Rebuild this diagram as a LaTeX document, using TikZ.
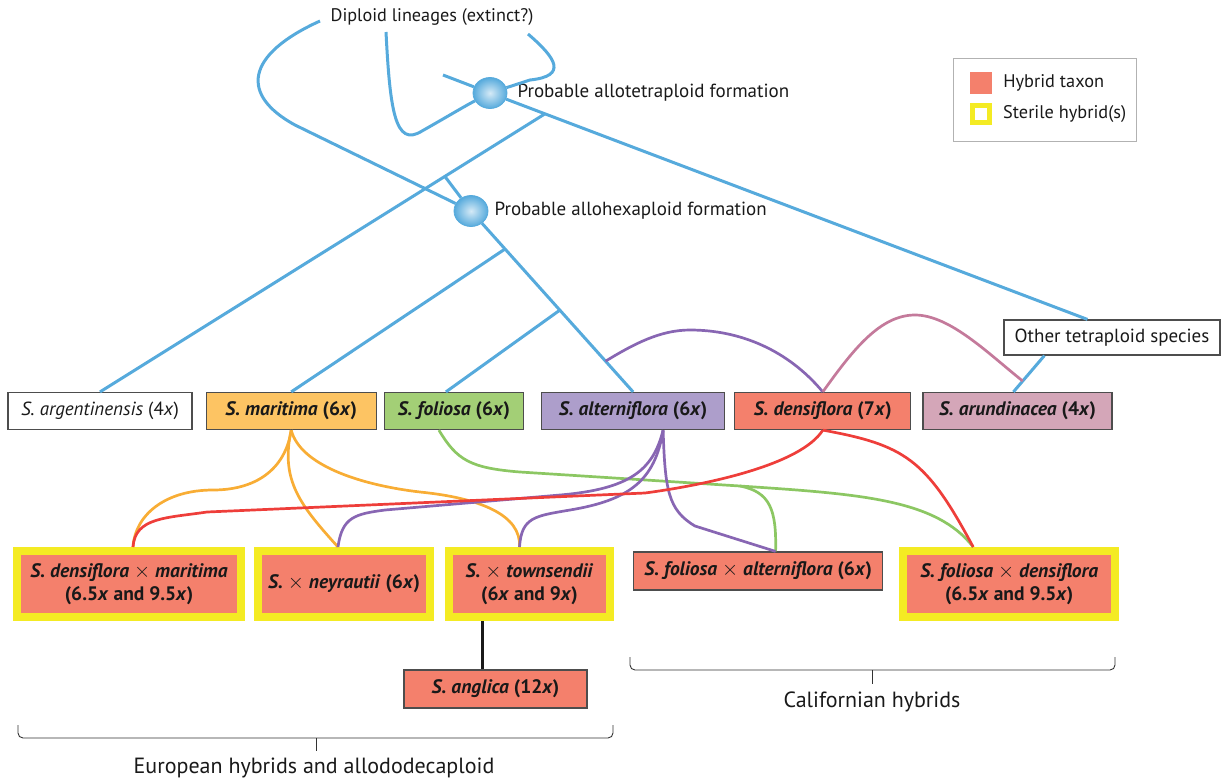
\documentclass[tikz,border=0pt]{standalone}
\usepackage{fontspec}
\setmainfont{PT Sans}
\usetikzlibrary{positioning,calc,shapes.geometric}
\definecolor{treeblue}{RGB}{86,170,220}
\definecolor{hybridsalmon}{RGB}{244,128,108}
\definecolor{sterileyellow}{RGB}{244,235,35}
\definecolor{maritimaorange}{RGB}{253,196,99}
\definecolor{foliosagreen}{RGB}{163,207,118}
\definecolor{alterpurple}{RGB}{173,158,203}
\definecolor{arundmauve}{RGB}{212,166,184}
\definecolor{orangeline}{RGB}{248,173,53}
\definecolor{redline}{RGB}{238,62,58}
\definecolor{greenline}{RGB}{140,199,99}
\definecolor{purpleline}{RGB}{136,102,179}
\definecolor{pinkline}{RGB}{196,122,155}
\definecolor{boxborder}{RGB}{77,77,77}
\newcommand{\taxon}[1]{\textit{#1}}
\newcommand{\crossx}{$\times$}
\tikzstyle{taxonbox} = [rectangle, draw=boxborder, line width=1.2pt, fill=white,
    minimum height=37pt, inner sep=0pt, text=black!90, align=center,
    font=\fontsize{19.5}{23}\selectfont\bfseries]
\tikzstyle{sterile} = [rectangle, draw=sterileyellow, line width=8pt, fill=hybridsalmon,
    minimum height=66pt, inner sep=0pt, text=black!90, align=center,
    font=\fontsize{19.5}{23}\selectfont\bfseries]
\tikzstyle{formation} = [ellipse, minimum width=34pt, minimum height=31pt, inner sep=0pt,
    draw=treeblue, line width=0.8pt, inner color=treeblue!25!white, outer color=treeblue]
\tikzstyle{plaintext} = [inner sep=0pt, text=black!90, font=\fontsize{19}{22}\selectfont]
\tikzstyle{lineage} = [draw=treeblue, line width=3pt]
\tikzstyle{line} = [draw, line width=2.7pt]
\tikzstyle{bracket} = [draw=black!80, line width=0.9pt, rounded corners=5pt]

\begin{document}
\begin{tikzpicture}[x=1pt, y=-1pt]
  \useasboundingbox (0,0) rectangle (1225,780);
  % parent species
  \node [taxonbox, minimum width=184pt, font=\fontsize{19}{22}\selectfont] (argent) at (100,411) {\taxon{S. argentinensis} (4\taxon{x})};
  \node [taxonbox, fill=maritimaorange, minimum width=170pt, right=13pt of argent] (maritima) {\taxon{S. maritima} (6\taxon{x})};
  \node [taxonbox, fill=foliosagreen, minimum width=139pt, right=7pt of maritima] (foliosa) {\taxon{S. foliosa} (6\taxon{x})};
  \node [taxonbox, fill=alterpurple, minimum width=183pt, right=17pt of foliosa] (altern) {\taxon{S. alterniflora} (6\taxon{x})};
  \node [taxonbox, fill=hybridsalmon, minimum width=176pt, right=9pt of altern] (densi) {\taxon{S. densiflora} (7\taxon{x})};
  \node [taxonbox, fill=arundmauve, minimum width=189pt, right=11pt of densi] (arund) {\taxon{S. arundinacea} (4\taxon{x})};
  \node [taxonbox, minimum width=216pt, minimum height=35pt, font=\fontsize{19}{22}\selectfont] (other) at (1112,337.5) {Other tetraploid species};
  % hybrids
  \node [sterile, minimum width=224pt] (dxm) at (129,584) {\taxon{S. densiflora} \crossx{} \taxon{maritima}\\(6.5\taxon{x} and 9.5\taxon{x})};
  \node [sterile, minimum width=172pt, right=9pt of dxm] (neyr) {\taxon{S.} \crossx{} \taxon{neyrautii} (6\taxon{x})};
  \node [sterile, minimum width=161pt, right=11pt of neyr] (towns) {\taxon{S.} \crossx{} \taxon{townsendii}\\(6\taxon{x} and 9\taxon{x})};
  \node [taxonbox, fill=hybridsalmon, minimum width=249pt, minimum height=38pt, right=19pt of towns, yshift=13pt] (fxa) {\taxon{S. foliosa} \crossx{} \taxon{alterniflora} (6\taxon{x})};
  \node [sterile, minimum width=212pt, right=16pt of fxa, yshift=-13pt] (fxd) {\taxon{S. foliosa} \crossx{} \taxon{densiflora}\\(6.5\taxon{x} and 9.5\taxon{x})};
  \node [taxonbox, fill=hybridsalmon, minimum width=183pt, minimum height=38pt] (anglica) at (495.5,689) {\taxon{S. anglica} (12\taxon{x})};
  % legend
  \node [draw=black!30, line width=1pt, minimum width=183pt, minimum height=83pt] (legend) at (1044.5,99.5) {};
  \node [fill=hybridsalmon, minimum size=22pt, inner sep=0pt] (hybkey) at (981,83) {};
  \node [plaintext, font=\fontsize{18.3}{21}\selectfont, right=11pt of hybkey] (hybtext) {Hybrid taxon};
  \node [draw=sterileyellow, fill=white, line width=5pt, minimum size=17pt, inner sep=0pt] (sterkey) at (981,114) {};
  \node [plaintext, font=\fontsize{18.3}{21}\selectfont, right=11pt of sterkey] (stertext) {Sterile hybrid(s)};
  % formation events
  \node [plaintext, font=\fontsize{18.2}{21}\selectfont] (diploid) at (432,17) {Diploid lineages (extinct?)};
  \node [formation] (tetra) at (490,93) {};
  \node [plaintext, right=10pt of tetra] (tetratext) {Probable allotetraploid formation};
  \node [formation] (hexa) at (471,211) {};
  \node [plaintext, right=6pt of hexa] (hexatext) {Probable allohexaploid formation};

  \coordinate (d1) at (320,21);
  \coordinate (d2) at (386,32);
  \coordinate (d3) at (528,34);
  \coordinate (d4) at (443,75);
  \coordinate (oth) at ([xshift=84pt]other.north west);
  \coordinate (b1) at ($(tetra.center)!0.092!(oth)$);
  \coordinate (b2) at ($(b1)!0.225!(argent.north)$);
  \coordinate (b3) at ($(hexa.center)!0.21!(altern.north)$);
  \coordinate (b4) at ($(hexa.center)!0.548!(altern.north)$);
  \coordinate (b5) at ($(hexa.center)!0.83!(altern.north)$);
  \coordinate (o1) at ([xshift=41pt]other.south west);
  \coordinate (a1) at ([xshift=91pt]arund.north west);
  \coordinate (b6) at ($(o1)!0.7!(a1)$);

  % phylogeny
  \path [lineage] (d1) .. controls (245,55) and (240,95) .. (295,125) -- (hexa);
  \path [lineage] (d2) .. controls (390,110) and (395,148) .. (422,131) .. controls (445,118) and (465,106) .. (tetra);
  \path [lineage] (d3) .. controls (556,58) and (568,76) .. (530,80) -- (tetra);
  \path [lineage] (d4) -- (tetra);
  \path [lineage] (tetra) -- (oth);
  \path [lineage] (b1) -- (argent.north);
  \path [lineage] (b2) -- (hexa);
  \path [lineage] (hexa) -- (altern.north);
  \path [lineage] (b3) -- (maritima.north);
  \path [lineage] (b4) -- ([xshift=-8pt]foliosa.north);
  \path [lineage] (o1) -- (a1);
  \path [line, purpleline] (b5) .. controls +(28,-17) and +(-30,0) .. (690,330) .. controls +(50,0) and +(-35,-42) .. (densi.north);
  \path [line, pinkline] (densi.north) .. controls +(30,-42) and +(-35,0) .. (915,315) .. controls +(35,0) and +(-34,-27) .. (b6);

  % hybridisation
  \coordinate (gsplit) at (740,486);
  \path [line, orangeline] (maritima.south) .. controls +(-6,40) and +(42,0) .. (213,490) .. controls +(-48,0) and +(2,-32) .. ([xshift=4pt]dxm.north);
  \path [line, orangeline] (maritima.south) .. controls +(-11,50) and +(-38,-42) .. ([xshift=-6pt]neyr.north);
  \path [line, orangeline] (maritima.south) .. controls +(9,35) and +(-60,-7) .. (420,492) .. controls +(60,6) and +(2,-32) .. ([xshift=-10pt]towns.north);
  \path [line, greenline] ([xshift=-15pt]foliosa.south) .. controls +(18,30) and +(-50,-4) .. (520,472) -- (gsplit) .. controls +(120,8) and +(-37,-48) .. ([xshift=-36pt]fxd.north);
  \path [line, greenline] (gsplit) .. controls +(30,6) and +(1,-42) .. ([xshift=17.5pt]fxa.north);
  \path [line, purpleline] ([xshift=30pt]altern.south) .. controls +(-10,40) and +(70,-6) .. (560,495) -- (385,510) .. controls +(-30,4) and +(4,-30) .. ([xshift=-6pt]neyr.north);
  \path [line, purpleline] ([xshift=30pt]altern.south) .. controls +(-8,50) and +(60,-10) .. (570,510) .. controls +(-35,6) and +(2,-30) .. ([xshift=-10pt]towns.north);
  \path [line, purpleline] ([xshift=30pt]altern.south) .. controls +(2,60) and +(-27,-16) .. (695,526) -- ([xshift=17.5pt]fxa.north);
  \path [line, redline] (densi.south) .. controls +(-22,35) and +(60,-8) .. (645,493) -- (207,512) .. controls +(-40,6) and +(2,-30) .. ([xshift=4pt]dxm.north);
  \path [line, redline] (densi.south) .. controls +(82,15) and +(-47,-88) .. ([xshift=-36pt]fxd.north);
  \path [line, black!90] ([xshift=-13pt]anglica.north) -- ([xshift=-13pt]anglica.north |- towns.south);

  % groups
  \path [bracket] (630,657) -- (630,670) -- (1115,670) -- (1115,657);
  \path [bracket] (872,670) -- (872,684);
  \node [plaintext, font=\fontsize{22}{25}\selectfont] (calif) at (872,702) {Californian hybrids};
  \path [bracket] (18,725) -- (18,738) -- (613,738) -- (613,725);
  \path [bracket] (316,738) -- (316,751);
  \node [plaintext, font=\fontsize{22}{25}\selectfont] (europe) at (314,768) {European hybrids and allododecaploid};
\end{tikzpicture}
\end{document}
